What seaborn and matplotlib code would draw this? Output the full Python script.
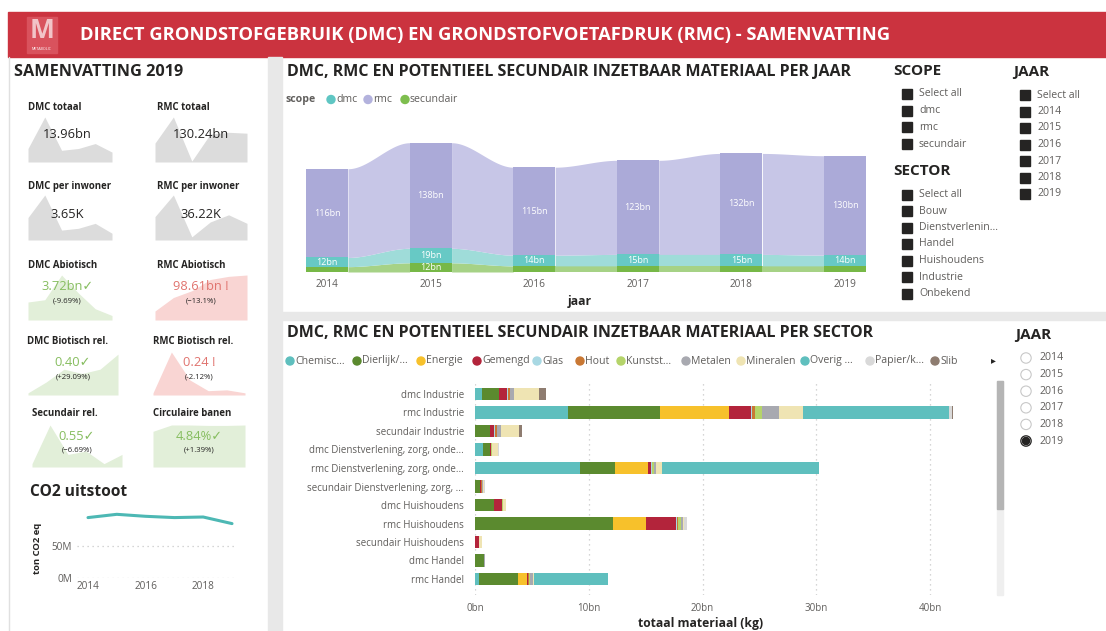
import numpy as np
import pandas as pd
import matplotlib
matplotlib.use("Agg")
import matplotlib.pyplot as plt
import seaborn as sns
from matplotlib.patches import Rectangle, Circle

# ---------------- DATA ----------------
years = ["2014", "2015", "2016", "2017", "2018", "2019"]
rmc_per_jaar = [116, 138, 115, 123, 132, 130]
dmc_per_jaar = [12, 19, 14, 15, 15, 14]
sec_per_jaar = [7, 12, 8, 8, 8, 8]

co2_years = [2014, 2015, 2016, 2017, 2018, 2019]
co2_mton = [94.4, 99.5, 96.4, 94.4, 95.3, 85.0]

sector_rows = ["dmc Industrie", "rmc Industrie", "secundair Industrie",
               "dmc Dienstverlening, zorg, onde...", "rmc Dienstverlening, zorg, onde...",
               "secundair Dienstverlening, zorg, ...", "dmc Huishoudens", "rmc Huishoudens",
               "secundair Huishoudens", "dmc Handel", "rmc Handel"]
materials = ["Chemisc...", "Dierlijk/...", "Energie", "Gemengd", "Glas", "Hout",
             "Kunstst...", "Metalen", "Mineralen", "Overig ...", "Papier/k...", "Slib"]
chemisch = [0.6, 8.15, 0, 0.7, 9.2, 0, 0, 0, 0, 0, 0.35]
dierlijk = [1.5, 8.15, 1.3, 0.6, 3.1, 0.45, 1.7, 12.15, 0, 0.8, 3.4]
energie = [0, 6.0, 0, 0, 2.9, 0, 0, 2.85, 0, 0, 0.8]
gemengd = [0.75, 2.0, 0.4, 0.1, 0.3, 0.12, 0.65, 2.65, 0.35, 0, 0.1]
glas = [0.05, 0.05, 0.05, 0.02, 0.05, 0, 0, 0.1, 0, 0, 0.05]
hout = [0.15, 0.25, 0.15, 0.03, 0.05, 0.05, 0.05, 0.1, 0.02, 0, 0.05]
kunststof = [0.05, 0.65, 0.05, 0.02, 0.1, 0.02, 0.05, 0.25, 0, 0.02, 0.05]
metalen = [0.3, 1.5, 0.3, 0.03, 0.2, 0.03, 0.05, 0.15, 0.02, 0.08, 0.3]
mineralen = [2.2, 2.1, 1.6, 0.55, 0.5, 0.15, 0.2, 0.15, 0.2, 0, 0.1]
overig = [0, 12.8, 0, 0, 13.8, 0, 0, 0, 0, 0, 6.45]
papier = [0.05, 0.25, 0.05, 0.05, 0.05, 0.02, 0.05, 0.2, 0.05, 0.02, 0.02]
slib = [0.6, 0.1, 0.2, 0, 0, 0, 0, 0.05, 0, 0, 0]
material_colors = ["#5FBFBE", "#5B8A2F", "#F7C12B", "#B3243B", "#A8D8E3", "#C97834",
                   "#B5D46A", "#A8A9B0", "#EFE4B3", "#5FBFBE", "#D9D9D9", "#8E7C70"]

# KPI cards (relative sparkline heights per year, 0-1 of card height)
kpi_titles = ["DMC totaal", "RMC totaal", "DMC per inwoner", "RMC per inwoner",
              "DMC Abiotisch", "RMC Abiotisch", "DMC Biotisch rel.", "RMC Biotisch rel.",
              "Secundair rel.", "Circulaire banen"]
kpi_values = ["13.96bn", "130.24bn", "3.65K", "36.22K", "3.72bn\u2713", "98.61bn !",
              "0.40\u2713", "0.24 !", "0.55\u2713", "4.84%\u2713"]
kpi_changes = ["", "", "", "", "(-9.69%)", "(\u221213.1%)", "(+29.09%)", "(-2.12%)",
               "(\u22126.69%)", "(+1.39%)"]
kpi_status = ["neutral", "neutral", "neutral", "neutral", "good", "bad", "good", "bad", "good", "good"]
spark_dmc_totaal = [0.30, 1.0, 0.26, 0.30, 0.41, 0.22]
spark_rmc_totaal = [0.42, 1.0, 0.02, 0.62, 0.66, 0.64]
spark_dmc_inw = [0.50, 1.0, 0.22, 0.26, 0.37, 0.15]
spark_rmc_inw = [0.52, 1.0, 0.07, 0.40, 0.56, 0.37]
spark_dmc_abio = [0.40, 0.45, 1.0, 0.60, 0.25, 0.10]
spark_rmc_abio = [0.20, 0.50, 0.65, 0.90, 0.97, 1.0]
spark_dmc_bio = [0.05, 0.30, 0.60, 0.50, 0.60, 0.95]
spark_rmc_bio = [0.05, 1.0, 0.35, 0.10, 0.12, 0.05]
spark_sec_rel = [0.08, 1.0, 0.30, 0.38, 0.08, 0.30]
spark_circ = [0.85, 1.0, 1.0, 0.99, 0.99, 1.0]
sparks = [spark_dmc_totaal, spark_rmc_totaal, spark_dmc_inw, spark_rmc_inw, spark_dmc_abio,
          spark_rmc_abio, spark_dmc_bio, spark_rmc_bio, spark_sec_rel, spark_circ]

scope_items = ["Select all", "dmc", "rmc", "secundair"]
sector_items = ["Select all", "Bouw", "Dienstverlenin...", "Handel", "Huishoudens", "Industrie", "Onbekend"]
jaar_items = ["Select all"] + years
radio_years = years
selected_year = "2019"

# ---------------- SETUP ----------------
W, H = 1106, 631
sns.set_theme(style="white")
plt.rcParams["font.family"] = ["Open Sans", "DejaVu Sans"]
DARK = "#252423"
GRAY = "#605E5C"

fig = plt.figure(figsize=(W / 100, H / 100), dpi=100, facecolor="white")


def rect(x0, y0, x1, y1):
    return [x0 / W, 1 - y1 / H, (x1 - x0) / W, (y1 - y0) / H]


bg = fig.add_axes([0, 0, 1, 1])
bg.set_xlim(0, W)
bg.set_ylim(H, 0)
bg.axis("off")
bg.add_patch(Rectangle((8, 12), W - 8, 45, color="#CB333F"))
bg.add_patch(Rectangle((268, 57), 14, H - 57, color="#E8E8E8"))
bg.add_patch(Rectangle((282, 312), W - 282, 8, color="#E8E8E8"))
bg.plot([8.5, 8.5], [57, H], color="#E0E0E0", lw=1)

# ---------------- TOP CHART (ribbon) ----------------
ax1 = fig.add_axes(rect(300, 125, 875, 272))
ax1.patch.set_alpha(0)
bw = 0.405
c1 = np.array(sec_per_jaar, float)
c2 = c1 + np.array(dmc_per_jaar)
c3 = c2 + np.array(rmc_per_jaar)
bands = [(np.zeros(6), c1, "#A6D286"), (c1, c2, "#9FDCD9"), (c2, c3, "#C7C6E7")]
for i in range(5):
    xs = np.linspace(i + bw / 2, i + 1 - bw / 2, 60)
    t = (xs - xs[0]) / (xs[-1] - xs[0])
    s = t * t * (3 - 2 * t)
    for lo, hi, col in bands:
        ax1.fill_between(xs, lo[i] + (lo[i + 1] - lo[i]) * s, hi[i] + (hi[i + 1] - hi[i]) * s,
                         color=col, lw=0)
df_top = pd.DataFrame({"jaar": years, "c1": c1, "c2": c2, "c3": c3})
for col, color in [("c3", "#ABAAD8"), ("c2", "#67C9C5"), ("c1", "#77B847")]:
    sns.barplot(data=df_top, x="jaar", y=col, color=color, width=bw, saturation=1,
                errorbar=None, linewidth=0, ax=ax1)
for i in range(6):
    ax1.text(i, (c2[i] + c3[i]) / 2, f"{rmc_per_jaar[i]}bn", color="white", ha="center", va="center", fontsize=6.5)
    ax1.text(i, (c1[i] + c2[i]) / 2, f"{dmc_per_jaar[i]}bn", color="white", ha="center", va="center", fontsize=6.5)
    if sec_per_jaar[i] >= 10:
        ax1.text(i, c1[i] / 2, f"{sec_per_jaar[i]}bn", color="white", ha="center", va="center", fontsize=6.5)
ax1.set_xlim(-27 / 103.6, 5 + 30 / 103.6)
ax1.set_ylim(0, 147 / 0.765)
ax1.set_yticks([])
ax1.set_xlabel("")
ax1.set_ylabel("")
ax1.tick_params(axis="x", length=0, labelsize=7.2, labelcolor=GRAY, pad=5)
sns.despine(ax=ax1, left=True, bottom=True)

# ---------------- BOTTOM CHART (stacked bars) ----------------
ax2 = fig.add_axes(rect(475, 382, 985, 595))
ax2.patch.set_alpha(0)
mat_values = [chemisch, dierlijk, energie, gemengd, glas, hout, kunststof, metalen,
              mineralen, overig, papier, slib]
df_sec = pd.DataFrame(dict(zip(materials, mat_values)))
df_sec["rij"] = sector_rows
cum = df_sec[materials].cumsum(axis=1)
ax2.set_axisbelow(True)
for k in range(len(materials) - 1, -1, -1):
    sns.barplot(x=cum[materials[k]].values, y=sector_rows, orient="y", color=material_colors[k],
                width=0.7, saturation=1, errorbar=None, linewidth=0, ax=ax2)
ax2.set_xlim(0, (985 - 475) / 11.375)
ax2.set_ylim((595 - 394) / 18.5, -(394 - 382) / 18.5)
ax2.set_xticks([0, 10, 20, 30, 40])
ax2.set_xticklabels([f"{v}bn" for v in [0, 10, 20, 30, 40]])
ax2.xaxis.grid(True, linestyle=(0, (1, 3)), color="#C8C8C8", lw=0.9)
ax2.tick_params(axis="both", length=0, labelsize=7, labelcolor=GRAY)
ax2.tick_params(axis="x", pad=6)
ax2.tick_params(axis="y", pad=8)
ax2.set_xlabel("")
ax2.set_ylabel("")
sns.despine(ax=ax2, left=True, bottom=True)

# ---------------- CO2 CHART ----------------
ax3 = fig.add_axes(rect(77, 505, 236, 578))
ax3.patch.set_alpha(0)
sns.lineplot(x=co2_years, y=co2_mton, color="#4DB8B4", linewidth=2.2, ax=ax3)
ax3.set_xlim(2014 - 11 / 28.8, 2019 + 4 / 28.8)
ax3.set_ylim(0, 73 / 0.64)
ax3.set_yticks([0, 50])
ax3.set_yticklabels(["0M", "50M"])
ax3.set_xticks([2014, 2016, 2018])
ax3.yaxis.grid(True, linestyle=(0, (1, 3)), color="#C8C8C8", lw=0.9)
ax3.tick_params(axis="both", length=0, labelsize=7.2, labelcolor=GRAY)
ax3.tick_params(axis="x", pad=2)
sns.despine(ax=ax3, left=True, bottom=True)

# ---------------- KPI sparklines ----------------
card_boxes = [(28, 117, 112, 162), (155, 117, 247, 162),
              (28, 195, 112, 240), (155, 195, 247, 240),
              (28, 275, 112, 320), (155, 275, 247, 320),
              (28, 352, 118, 395), (153, 352, 245, 395),
              (32, 425, 122, 467), (153, 425, 245, 467)]
fill_cols = {"neutral": "#DCDCDC", "good": "#E2EFD9", "bad": "#F9D5D3"}
for (x0, y0, x1, y1), vals, st in zip(card_boxes, sparks, kpi_status):
    a = fig.add_axes(rect(x0, y0, x1, y1))
    a.fill_between(np.arange(6), vals, color=fill_cols[st], lw=0)
    a.set_xlim(0, 5)
    a.set_ylim(0, 1)
    a.axis("off")

# ---------------- OVERLAY (texts, markers) ----------------
ov = fig.add_axes([0, 0, 1, 1])
ov.set_xlim(0, W)
ov.set_ylim(H, 0)
ov.axis("off")
ov.patch.set_alpha(0)

# header
ov.add_patch(Rectangle((27, 17), 30, 36, color="#D9525D"))
ov.text(42, 31, "M", color="#F2C4C8", fontsize=19, fontweight="bold", ha="center", va="center")
ov.text(42, 49, "METABOLIC", color="white", fontsize=2.6, ha="center", va="center")
ov.text(80, 35, "DIRECT GRONDSTOFGEBRUIK (DMC) EN GRONDSTOFVOETAFDRUK (RMC) - SAMENVATTING",
        color="white", fontsize=13.2, fontweight="bold", va="center", ha="left")

# left panel
ov.text(14, 72, "SAMENVATTING 2019", color=DARK, fontsize=11.7, fontweight="bold", va="center")
title_pos = [(28, 107), (157, 107), (28, 186), (157, 186), (28, 265), (157, 265),
             (27, 342), (153, 342), (32, 413), (153, 413)]
val_y = [135, 135, 214, 214, 286, 286, 362, 362, 436, 436]
sub_y = [0, 0, 0, 0, 301, 301, 377, 377, 450, 450]
val_cols = {"neutral": DARK, "good": "#86BD5F", "bad": "#E0736E"}
for k in range(10):
    tx, ty = title_pos[k]
    ov.text(tx, ty, kpi_titles[k], color=DARK, fontsize=6.9, fontweight="bold", va="center")
    x0, y0, x1, y1 = card_boxes[k]
    cx = (x0 + x1) / 2 - (3 if k in (0, 2, 4) else 0)
    ov.text(cx, val_y[k], kpi_values[k], color=val_cols[kpi_status[k]], fontsize=9.3,
            ha="center", va="center")
    if kpi_changes[k]:
        ov.text(cx, sub_y[k], kpi_changes[k], color=DARK, fontsize=5.6, ha="center", va="center")

ov.text(30, 492, "CO2 uitstoot", color=DARK, fontsize=11.2, fontweight="bold", va="center")
ov.text(37, 548, "ton CO2 eq", color=DARK, fontsize=6.8, fontweight="bold", rotation=90,
        ha="center", va="center")

# top chart title / legend
ov.text(287, 72, "DMC, RMC EN POTENTIEEL SECUNDAIR INZETBAAR MATERIAAL PER JAAR", color=DARK,
        fontsize=11.5, fontweight="bold", va="center")
ov.text(286, 99.5, "scope", color=GRAY, fontsize=7.6, fontweight="bold", va="center")
for lab, col, xd in [("dmc", "#5FC6C3", 331), ("rmc", "#B3B2DD", 368), ("secundair", "#7EBE4E", 405)]:
    ov.add_patch(Circle((xd, 99.5), 4, color=col))
    ov.text(xd + 5, 99.5, lab, color=GRAY, fontsize=7.6, va="center")
ov.text(580, 302, "jaar", color=DARK, fontsize=8.7, fontweight="bold", ha="center", va="center")

# slicers
ov.text(893, 71, "SCOPE", color=DARK, fontsize=11, fontweight="bold", va="center")
for j, it in enumerate(scope_items):
    y = 94 + j * 16.7
    ov.add_patch(Rectangle((902, y - 5), 10, 10, color=DARK))
    ov.text(919, y, it, color=GRAY, fontsize=7.6, va="center")
ov.text(893, 171, "SECTOR", color=DARK, fontsize=11, fontweight="bold", va="center")
for j, it in enumerate(sector_items):
    y = 194.5 + j * 16.5
    ov.add_patch(Rectangle((902, y - 5), 10, 10, color=DARK))
    ov.text(919, y, it, color=GRAY, fontsize=7.6, va="center")
ov.text(1013, 72, "JAAR", color=DARK, fontsize=11, fontweight="bold", va="center")
for j, it in enumerate(jaar_items):
    y = 95 + j * 16.5
    ov.add_patch(Rectangle((1020, y - 5), 10, 10, color=DARK))
    ov.text(1037, y, it, color=GRAY, fontsize=7.6, va="center")

# bottom chart title / legend
ov.text(287, 333, "DMC, RMC EN POTENTIEEL SECUNDAIR INZETBAAR MATERIAAL PER SECTOR", color=DARK,
        fontsize=11.5, fontweight="bold", va="center")
leg_x = [290, 357, 421, 477, 537, 580, 621, 686, 741, 805, 870, 935]
for lab, col, xd in zip(materials, material_colors, leg_x):
    ov.add_patch(Circle((xd, 361), 4, color=col))
    ov.text(xd + 5, 361, lab, color=GRAY, fontsize=7.6, va="center")
ov.text(993, 361, "\u25B8", color=DARK, fontsize=7, ha="center", va="center")
ov.text(701, 623, "totaal materiaal (kg)", color=DARK, fontsize=8.7, fontweight="bold",
        ha="center", va="center")

# scrollbar
ov.add_patch(Rectangle((997, 381), 6, 214, color="#EFEFEF"))
ov.add_patch(Rectangle((997, 381), 6, 128, color="#B5B5B5"))

# radio slicer
ov.text(1015, 335, "JAAR", color=DARK, fontsize=11, fontweight="bold", va="center")
for j, yr in enumerate(radio_years):
    y = 358 + j * 16.6
    if yr == selected_year:
        ov.add_patch(Circle((1026, y), 5.2, fill=False, ec=DARK, lw=0.9))
        ov.add_patch(Circle((1026, y), 3.6, color=DARK))
    else:
        ov.add_patch(Circle((1026, y), 5.2, fill=False, ec="#C8C8C8", lw=0.8))
    ov.text(1040, y, yr, color=GRAY, fontsize=7.6, va="center")

fig.savefig("out.png", dpi=100, facecolor="white")
